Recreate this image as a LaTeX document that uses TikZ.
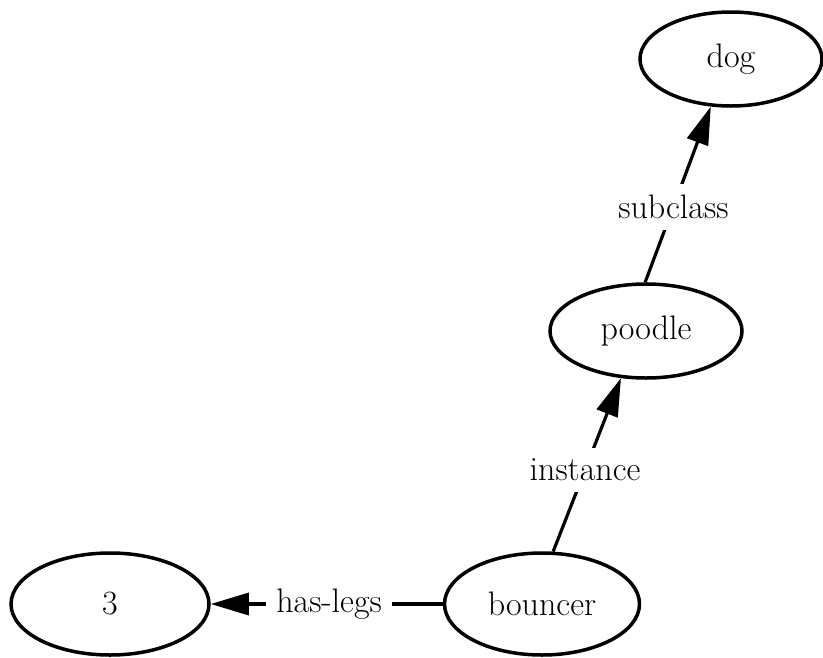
\documentclass[tikz,border=0pt]{standalone}
\usetikzlibrary{shapes.geometric,arrows.meta}
\begin{document}
\begin{tikzpicture}[x=1pt,y=-1pt,
  ent/.style={draw=black,ellipse,line width=3.5pt,inner sep=0pt,font=\fontsize{34}{40}\selectfont},
  rel/.style={line width=3.2pt,-{Triangle[length=38pt,width=22pt]}},
  lbl/.style={fill=white,inner xsep=10pt,inner ysep=11pt,font=\fontsize{34}{40}\selectfont,text=black}]
\useasboundingbox (0,0) rectangle (823,657);
\node[ent,minimum width=182pt,minimum height=94pt] (dog) at (731,59) {dog};
\node[ent,minimum width=192pt,minimum height=94pt] (poodle) at (646,331) {poodle};
\node[ent,minimum width=195pt,minimum height=102pt] (bouncer) at (542,604) {bouncer};
\node[ent,minimum width=198pt,minimum height=102pt] (three) at (110,604) {3};
\draw[rel] (poodle.91) -- node[lbl,pos=0.43]{subclass} (dog.247);
\draw[rel] (bouncer.78) -- node[lbl,pos=0.47]{instance} (poodle.242);
\draw[rel] (bouncer.west) -- node[lbl,pos=0.49]{has-legs} (three.east);
\end{tikzpicture}
\end{document}
